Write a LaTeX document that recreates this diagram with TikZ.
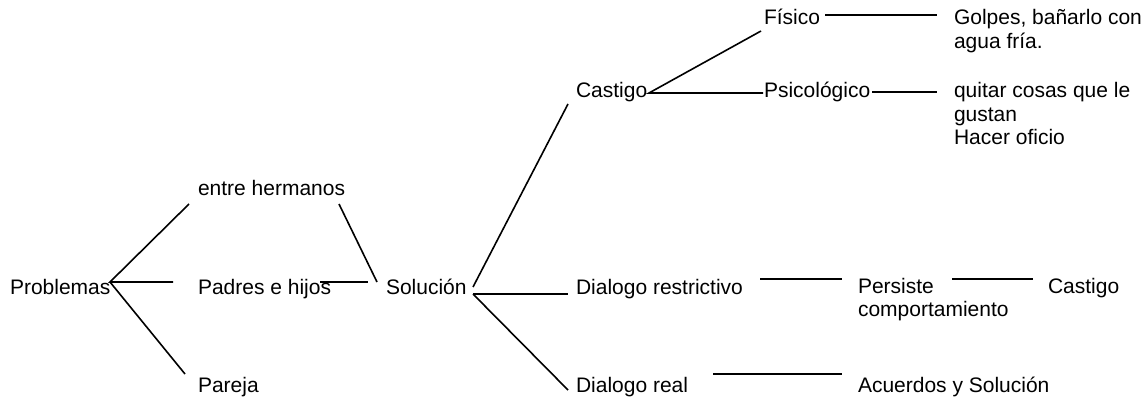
\documentclass[tikz,border=0pt]{standalone}
\usepackage{fontspec}
\setmainfont{Liberation Sans}
\begin{document}
\begin{tikzpicture}[x=1pt,y=-1pt,
  txt/.style={inner sep=0pt, outer sep=0pt, anchor=base west, font=\fontsize{21}{23.5}\selectfont},
  conn/.style={line width=1.6pt, line cap=butt}]
\useasboundingbox (0,0) rectangle (1148,398);
\newcommand{\lines}[1]{\begin{tabular}[t]{@{}l@{}}#1\end{tabular}}
\renewcommand{\arraystretch}{1}
% text nodes
\node[txt] (prob) at (10,294) {Problemas};
\node[txt] (herm) at (198,196) {entre hermanos};
\node[txt] (padr) at (198,294) {Padres e hijos};
\node[txt] (pare) at (198,392) {Pareja};
\node[txt] (solu) at (386,294) {Solución};
\node[txt] (cast) at (576,98) {Castigo};
\node[txt] (fisi) at (764,25) {Físico};
\node[txt] (psic) at (764,98) {Psicológico};
\node[txt] (golp) at (954,25) {\lines{Golpes, bañarlo con\\agua fría.}};
\node[txt] (quit) at (954,98) {\lines{quitar cosas que le\\gustan\\Hacer oficio}};
\node[txt] (drest) at (576,294) {Dialogo restrictivo};
\node[txt] (pers) at (858,293) {\lines{Persiste\\comportamiento}};
\node[txt] (cast2) at (1048,293) {Castigo};
\node[txt] (dreal) at (576,392) {Dialogo real};
\node[txt] (acue) at (858,392) {Acuerdos y Solución};
% connector end points
\coordinate (pf) at (110,282);
\coordinate (pa) at (189,204);
\coordinate (pb) at (173,282);
\coordinate (pc) at (185,374);
\coordinate (ha) at (339,204);
\coordinate (hb) at (377,282);
\coordinate (ja) at (320,282);
\coordinate (jb) at (368,282);
\coordinate (su) at (473,287);
\coordinate (sf) at (473,294);
\coordinate (sa) at (568,104);
\coordinate (sb) at (568,294);
\coordinate (sc) at (568,390);
\coordinate (cf) at (649,93);
\coordinate (ca) at (761,31);
\coordinate (cb) at (763,93);
\coordinate (fa) at (825,15);
\coordinate (fb) at (937,15);
\coordinate (qa) at (872,92);
\coordinate (qb) at (937,92);
\coordinate (ra) at (760,279);
\coordinate (rb) at (842,279);
\coordinate (ka) at (952,279);
\coordinate (kb) at (1033,279);
\coordinate (la) at (713,374);
\coordinate (lb) at (842,374);
% connectors
\draw[conn] (pa) -- (pf) -- (pb);
\draw[conn] (pf) -- (pc);
\draw[conn] (ha) -- (hb);
\draw[conn] (ja) -- (jb);
\draw[conn] (su) -- (sa);
\draw[conn] (sf) -- (sb);
\draw[conn] (sf) -- (sc);
\draw[conn] (ca) -- (cf) -- (cb);
\draw[conn] (fa) -- (fb);
\draw[conn] (qa) -- (qb);
\draw[conn] (ra) -- (rb);
\draw[conn] (ka) -- (kb);
\draw[conn] (la) -- (lb);
\end{tikzpicture}
\end{document}
